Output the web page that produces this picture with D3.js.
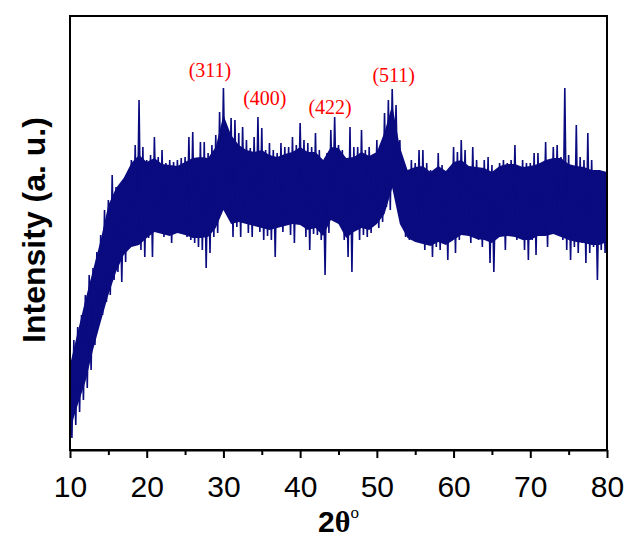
<!DOCTYPE html>
<html>
<head>
<meta charset="utf-8">
<script src="https://cdn.jsdelivr.net/npm/d3@7"></script>
<style>
  body { margin: 0; background: #fff; }
</style>
</head>
<body>
<svg id="chart" width="626" height="541"></svg>
<script>
// XRD scan, sampled every 0.5 deg: upper and lower envelope of the noisy trace (a.u.)
const angleStart = 10;
const angleStep = 0.5;
const upperEnvelope = [
  90, 110, 123, 135, 155, 175, 182, 198, 215, 240,
  250, 275, 263, 265, 270, 277, 290, 305, 350, 303,
  290, 295, 313, 293, 300, 287, 290, 288, 290, 292,
  293, 313, 318, 285, 308, 308, 297, 305, 315, 338,
  362, 320, 332, 330, 317, 323, 310, 302, 313, 333,
  322, 300, 307, 300, 297, 307, 303, 303, 313, 305,
  327, 310, 307, 303, 317, 300, 287, 297, 320, 333,
  305, 300, 290, 323, 303, 303, 320, 300, 303, 290,
  310, 305, 337, 350, 361, 345, 310, 280, 273, 290,
  287, 300, 300, 287, 280, 277, 297, 285, 277, 280,
  303, 298, 310, 300, 280, 303, 290, 273, 290, 293,
  285, 270, 287, 290, 287, 290, 305, 283, 290, 287,
  287, 297, 297, 277, 308, 290, 303, 305, 293, 362,
  295, 283, 325, 293, 290, 317, 290, 277, 280, 277,
  277
];
const lowerEnvelope = [
  12, 25, 38, 50, 62, 80, 105, 125, 135, 148,
  155, 170, 178, 168, 188, 202, 207, 210, 200, 193,
  212, 193, 228, 217, 213, 218, 207, 226, 218, 220,
  213, 210, 207, 203, 200, 182, 197, 213, 217, 240,
  255, 238, 213, 223, 213, 228, 217, 213, 225, 218,
  210, 214, 210, 193, 225, 218, 230, 215, 207, 237,
  225, 213, 200, 216, 215, 210, 175, 217, 237, 240,
  228, 210, 193, 178, 220, 210, 215, 213, 217, 227,
  222, 228, 243, 240, 277, 250, 225, 213, 210, 215,
  213, 207, 200, 207, 193, 203, 200, 213, 190, 210,
  197, 210, 227, 220, 207, 218, 210, 203, 213, 187,
  178, 213, 217, 200, 223, 220, 210, 217, 200, 190,
  210, 195, 217, 217, 203, 227, 223, 217, 210, 200,
  190, 203, 197, 207, 187, 197, 203, 170, 200, 197,
  210
];

// dense core of the noise band, read every 1 deg from 10 to 80 (a.u.)
const coreUpper = [
  85, 118, 150, 180, 210, 245, 262, 272, 287, 295,
  288, 292, 286, 285, 284, 288, 292, 293, 292, 303,
  335, 315, 305, 300, 298, 300, 295, 293, 296, 298,
  303, 298, 298, 290, 303, 302, 292, 293, 298, 294,
  298, 318, 345, 303, 280, 283, 284, 278, 284, 279,
  288, 290, 284, 283, 282, 278, 284, 286, 286, 283,
  284, 286, 290, 292, 292, 286, 284, 283, 280, 280,
  278
];
const coreLower = [
  20, 45, 68, 100, 128, 155, 178, 195, 203, 205,
  212, 218, 216, 214, 217, 215, 212, 212, 213, 222,
  240, 226, 228, 226, 224, 222, 220, 222, 224, 226,
  225, 220, 222, 214, 230, 226, 212, 218, 222, 220,
  226, 236, 262, 226, 212, 208, 206, 204, 208, 205,
  210, 215, 214, 211, 210, 207, 213, 214, 213, 210,
  210, 214, 214, 216, 213, 210, 208, 207, 205, 205,
  208
];

// Miller indices of the reflections and where their labels sit (2theta, intensity)
const peakLabels = ['(311)', '(400)', '(422)', '(511)'];
const peakAngles = [28.25, 35.4, 43.9, 52.2];
const peakLabelLevels = [373, 345, 336, 368];

const xTicks = [10, 20, 30, 40, 50, 60, 70, 80];

const width = 626, height = 541;
const margin = { top: 16, right: 19, bottom: 91, left: 70 };
const lineColor = '#0b0b80';

const svg = d3.select('#chart');

const x = d3.scaleLinear()
  .domain([10, 80])
  .range([margin.left, width - margin.right]);

const y = d3.scaleLinear()
  .domain([0, 434])
  .range([height - margin.bottom, margin.top]);

// core band
const coreArea = d3.area()
  .x((d, i) => x(angleStart + i))
  .y0((d, i) => y(coreLower[i]))
  .y1(d => y(d));

svg.append('path')
  .datum(coreUpper)
  .attr('fill', lineColor)
  .attr('d', coreArea);

// zigzag through the envelope: high reading at the sample angle, low reading half a step later
const trace = [];
for (let i = 0; i < upperEnvelope.length; i++) {
  const a = angleStart + i * angleStep;
  trace.push([a, upperEnvelope[i]]);
  if (i < upperEnvelope.length - 1) trace.push([a + angleStep / 2, lowerEnvelope[i]]);
}

const line = d3.line()
  .x(d => x(d[0]))
  .y(d => y(d[1]));

svg.append('path')
  .datum(trace)
  .attr('fill', 'none')
  .attr('stroke', lineColor)
  .attr('stroke-width', 1.6)
  .attr('d', line);

// frame
svg.append('rect')
  .attr('x', margin.left)
  .attr('y', margin.top)
  .attr('width', width - margin.left - margin.right)
  .attr('height', height - margin.top - margin.bottom)
  .attr('fill', 'none')
  .attr('stroke', '#000')
  .attr('stroke-width', 2);

// bottom axis, major + minor ticks
const xAxis = svg.append('g')
  .attr('transform', `translate(0,${height - margin.bottom})`)
  .call(d3.axisBottom(x).tickValues(xTicks).tickSize(8).tickSizeOuter(0).tickPadding(18));

xAxis.select('.domain').attr('stroke-width', 2);
xAxis.selectAll('.tick line').attr('stroke-width', 2);
xAxis.selectAll('.tick text')
  .style('font-family', '"Liberation Sans", Arial, sans-serif')
  .style('font-size', '30px')
  .attr('fill', '#000');

svg.append('g')
  .attr('transform', `translate(0,${height - margin.bottom})`)
  .call(d3.axisBottom(x).tickValues(d3.range(15, 80, 10)).tickSize(5).tickFormat(''))
  .call(g => g.select('.domain').remove())
  .selectAll('.tick line').attr('stroke-width', 2);

// axis titles
const xTitle = svg.append('text')
  .attr('x', x(45))
  .attr('y', 532)
  .attr('text-anchor', 'middle')
  .style('font-family', '"Liberation Sans", Arial, sans-serif')
  .style('font-weight', 'bold')
  .style('font-size', '30px');
xTitle.append('tspan').text('2');
xTitle.append('tspan').style('font-family', '"Liberation Serif", serif').text('θ');
xTitle.append('tspan')
  .attr('dy', -14)
  .style('font-family', '"Liberation Serif", serif')
  .style('font-weight', 'normal')
  .style('font-size', '17px')
  .text('o');

svg.append('text')
  .attr('transform', `translate(45,230) rotate(-90)`)
  .attr('text-anchor', 'middle')
  .style('font-family', '"Liberation Sans", Arial, sans-serif')
  .style('font-weight', 'bold')
  .style('font-size', '32px')
  .text('Intensity (a. u.)');

// reflection labels
svg.append('g')
  .selectAll('text')
  .data(peakLabels)
  .join('text')
  .attr('x', (d, i) => x(peakAngles[i]))
  .attr('y', (d, i) => y(peakLabelLevels[i]))
  .attr('text-anchor', 'middle')
  .attr('fill', '#ff0000')
  .style('font-family', '"Liberation Serif", "Times New Roman", serif')
  .style('font-size', '20px')
  .text(d => d);
</script>
</body>
</html>
